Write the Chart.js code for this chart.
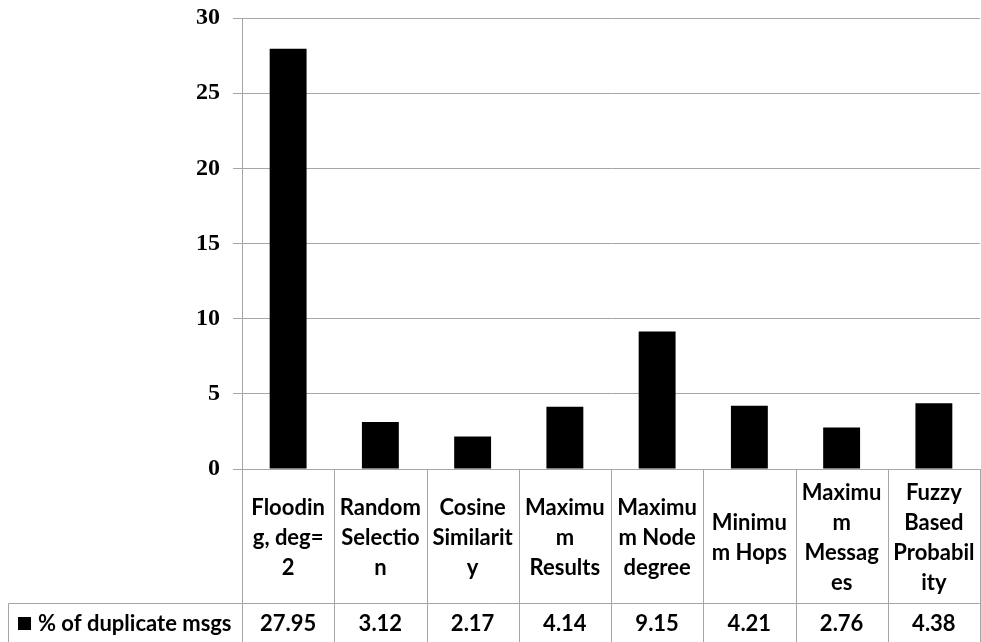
<!DOCTYPE html>
<html>
<head>
<meta charset="utf-8">
<script src="https://cdn.jsdelivr.net/npm/chart.js@4"></script>
<style>
  html, body { margin: 0; padding: 0; background: #fff; }
  #wrap { width: 981px; height: 642px; }
</style>
</head>
<body>
<div id="wrap"><canvas id="c" width="981" height="642"></canvas></div>
<script>
// ---- data ----
const categories = [
  "Flooding, deg=2", "Random Selection", "Cosine Similarity", "Maximum Results",
  "Maximum Node degree", "Minimum Hops", "Maximum Messages", "Fuzzy Based Probability"
];
const categoryLines = [
  ["Floodin", "g, deg=", "2"],
  ["Random", "Selectio", "n"],
  ["Cosine", "Similarit", "y"],
  ["Maximu", "m", "Results"],
  ["Maximu", "m Node", "degree"],
  ["Minimu", "m Hops"],
  ["Maximu", "m", "Messag", "es"],
  ["Fuzzy", "Based", "Probabil", "ity"]
];
const seriesName = "% of duplicate msgs";
const seriesValues = [27.95, 3.12, 2.17, 4.14, 9.15, 4.21, 2.76, 4.38];
const valueLabels = ["27.95", "3.12", "2.17", "4.14", "9.15", "4.21", "2.76", "4.38"];
const yTicks = [0, 5, 10, 15, 20, 25, 30];

// ---- style ----
const GRID = "#a6a6a6";
const tableFont = "bold 22px Lato, 'Open Sans', sans-serif";
const TABLE_H = 173;
const ROW1_H = 134;

const dataTablePlugin = {
  id: "dataTable",
  afterDraw(chart) {
    const ctx = chart.ctx;
    const x = chart.scales.x;
    const area = chart.chartArea;
    const n = categories.length;
    const w = x.width / n;
    const top = area.bottom;
    const row2 = top + ROW1_H;
    const bottom = chart.height;
    ctx.save();
    ctx.strokeStyle = GRID;
    ctx.lineWidth = 1;
    for (let i = 0; i <= n; i++) {
      const px = Math.round(x.getPixelForValue(0) - w / 2 + i * w) + 0.5;
      ctx.beginPath();
      ctx.moveTo(px, top);
      ctx.lineTo(px, bottom);
      ctx.stroke();
    }
    ctx.beginPath();
    ctx.moveTo(8.5, Math.round(row2) + 0.5);
    ctx.lineTo(area.right, Math.round(row2) + 0.5);
    ctx.moveTo(8.5, Math.round(row2) + 0.5);
    ctx.lineTo(8.5, bottom);
    ctx.stroke();

    ctx.fillStyle = "#000";
    ctx.font = tableFont;
    ctx.textAlign = "center";
    ctx.textBaseline = "middle";
    const lh = 30;
    for (let i = 0; i < n; i++) {
      const cx = x.getPixelForValue(i);
      const lines = categoryLines[i];
      const cy = top + ROW1_H / 2 + 2;
      const start = cy - (lines.length - 1) * lh / 2;
      lines.forEach((t, k) => ctx.fillText(t, cx, start + k * lh));
      ctx.fillText(valueLabels[i], cx, row2 + 21);
    }
    ctx.fillRect(18, row2 + 14, 13, 13);
    ctx.textAlign = "left";
    ctx.fillText(seriesName, 38, row2 + 21);
    ctx.restore();
  }
};

new Chart(document.getElementById("c"), {
  type: "bar",
  data: {
    labels: categories,
    datasets: [{
      label: seriesName,
      data: seriesValues,
      backgroundColor: "#000",
      borderWidth: 0,
      categoryPercentage: 1,
      barPercentage: 0.4
    }]
  },
  options: {
    responsive: false,
    animation: false,
    layout: { padding: { top: 18, right: 1, left: 0, bottom: 0 } },
    plugins: { legend: { display: false }, tooltip: { enabled: false } },
    scales: {
      x: {
        grid: { display: false },
        border: { display: false },
        ticks: { display: false },
        afterFit(scale) { scale.height = TABLE_H; }
      },
      y: {
        min: 0, max: 30,
        afterBuildTicks(scale) { scale.ticks = yTicks.map(v => ({ value: v })); },
        grid: { color: GRID, tickLength: 9, drawTicks: true, tickColor: GRID },
        border: { display: true, color: GRID },
        ticks: {
          padding: 13,
          color: "#000",
          font: { family: "'Liberation Serif', 'DejaVu Serif', serif", size: 24, weight: "bold" }
        },
        afterFit(scale) {
          scale.width = 242;
          scale.paddingTop = 0;
          scale.paddingBottom = 0;
        }
      }
    }
  },
  plugins: [dataTablePlugin]
});
</script>
</body>
</html>
